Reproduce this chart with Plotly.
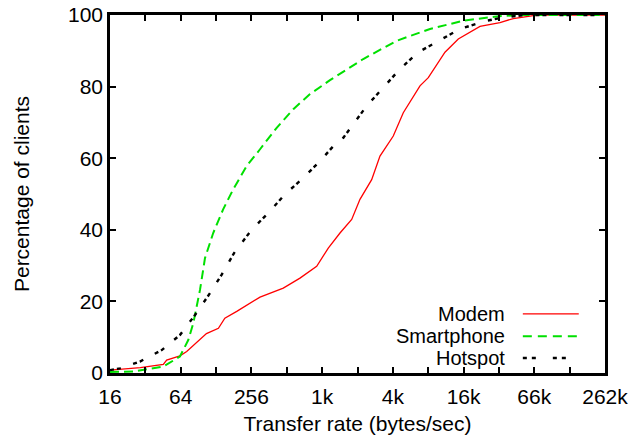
import plotly.graph_objects as go

# ---- data (transfer rate in bytes/sec, percentage of clients) ----
modem_rate = [16, 29, 45.5, 48.6, 63, 72, 106, 134, 152, 192, 303, 478, 663, 920,
              1155, 1453, 1828, 2150, 2704, 3182, 4130, 5025, 6971, 8205, 11380,
              14770, 22600, 33450, 43400, 64200, 80800, 262144]
modem_pct = [0.8, 1.5, 2.4, 3.6, 4.8, 6.0, 11.0, 12.5, 15.3, 17.2, 21.2, 23.7, 26.5, 29.8,
             34.9, 39.1, 42.9, 48.5, 54.0, 60.6, 66.2, 72.7, 80.2, 82.5, 89.6,
             93.3, 96.8, 97.9, 99.0, 99.8, 100, 100]

smart_rate = [16, 25.3, 45.5, 63, 74.2, 81.9, 93.4, 103, 121, 147, 179, 233, 303, 420,
              582, 807, 1194, 2293, 4413, 8480, 16290, 31350, 49500, 262144]
smart_pct = [0.3, 0.4, 1.8, 4.6, 9.2, 13.9, 23.2, 32.1, 39.1, 45.7, 51.3, 57.8, 62.5, 68.5,
             73.7, 77.9, 81.8, 87.7, 92.8, 96.1, 98.4, 99.6, 100, 100]

hot_rate = [16, 19.5, 28.8, 44.1, 63, 84.7, 113.6, 143, 182, 257, 356, 494, 708, 982,
            1317, 1550, 2453, 3395, 4709, 6740, 9670, 15270, 25760, 35680, 54600, 262144]
hot_pct = [0.8, 1.3, 3.2, 6.4, 10.6, 16.2, 22.3, 27.5, 33.5, 40.0, 44.7, 49.9, 54.5, 59.2,
           63.9, 65.7, 74.6, 79.7, 84.9, 89.6, 92.4, 96.1, 98.4, 99.3, 100, 100]

series_names = ["Modem", "Smartphone", "Hotspot"]
x_tick_vals = [2 ** e for e in range(4, 19)]
x_tick_text = ["16", "", "64", "", "256", "", "1k", "", "4k", "", "16k", "", "66k", "", "262k"]
y_tick_vals = [0, 20, 40, 60, 80, 100]

FONT = "Liberation Sans, Arial, sans-serif"
FS = 21
colors = ["#ff0000", "#00e000", "#000000"]
dashes = ["solid", "9px,5px", "4px,3px,4px,13px"]
widths = [1.3, 2.0, 2.4]

fig = go.Figure()
for name, xs, ys, c, d, w in zip(series_names,
                                 [modem_rate, smart_rate, hot_rate],
                                 [modem_pct, smart_pct, hot_pct],
                                 colors, dashes, widths):
    fig.add_trace(go.Scatter(x=xs, y=ys, mode="lines", name=name,
                             line=dict(color=c, dash=d, width=w), showlegend=False))

# legend drawn at the bottom-right, text to the left of the sample line
leg_y = [0.165, 0.103, 0.042]
leg_dash = ["solid", "9px,6px", "4px,5px,4px,17px"]
for name, yy, c, d, w in zip(series_names, leg_y, colors, leg_dash, widths):
    fig.add_annotation(x=0.802, y=yy, xref="paper", yref="paper", text=name,
                       showarrow=False, xanchor="right", yanchor="middle",
                       font=dict(family=FONT, size=20, color="black"))
    fig.add_shape(type="line", xref="paper", yref="paper", x0=0.834, x1=0.947,
                  y0=yy, y1=yy, line=dict(color=c, dash=d, width=w))

axis_common = dict(showline=True, linecolor="black", linewidth=2.5, mirror="allticks",
                   ticks="inside", ticklen=6, tickwidth=2, tickcolor="black",
                   showgrid=False, zeroline=False, automargin=False,
                   ticklabeloverflow="allow",
                   tickfont=dict(family=FONT, size=FS, color="black"))

fig.update_xaxes(type="log", range=[1.20412, 5.41854], tickmode="array",
                 tickvals=x_tick_vals, ticktext=x_tick_text, ticklabelstandoff=3,
                 title=dict(text="Transfer rate (bytes/sec)",
                            font=dict(family=FONT, size=FS, color="black"), standoff=10),
                 **axis_common)
fig.update_yaxes(range=[0, 100], tickmode="array", tickvals=y_tick_vals,
                 title=dict(text="Percentage of clients",
                            font=dict(family=FONT, size=FS, color="black"), standoff=33),
                 **axis_common)

fig.update_layout(width=639, height=441, margin=dict(l=110, r=34, t=15, b=68),
                  plot_bgcolor="white", paper_bgcolor="white", showlegend=False)

# remove the default page margin so the figure fills the window exactly
fig.write_html("out.html", config={"displayModeBar": False},
               post_script="document.body.style.margin='0';document.body.style.overflow='hidden';")
